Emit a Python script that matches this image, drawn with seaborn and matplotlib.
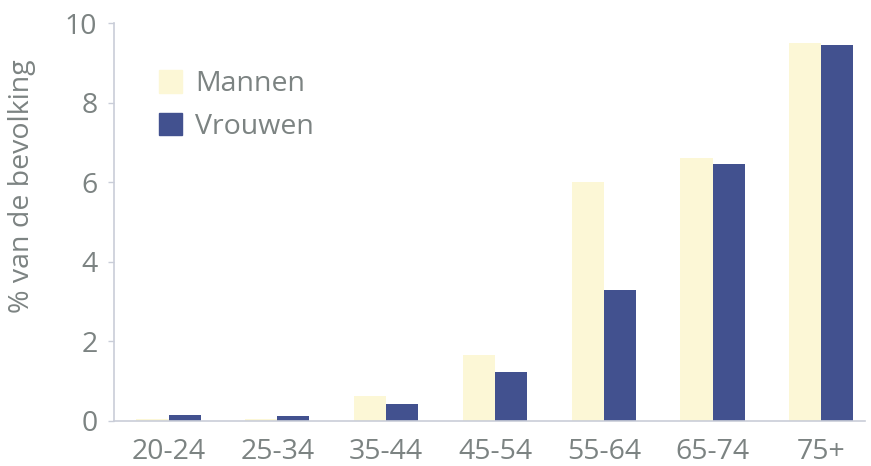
import matplotlib
matplotlib.use("Agg")
import matplotlib.pyplot as plt
import seaborn as sns
import pandas as pd

# Leeftijdsgroepen en percentage van de bevolking per geslacht
leeftijd = ["20-24", "25-34", "35-44", "45-54", "55-64", "65-74", "75+"]
mannen = [0.05, 0.05, 0.62, 1.65, 6.0, 6.6, 9.5]
vrouwen = [0.15, 0.12, 0.43, 1.23, 3.3, 6.45, 9.45]

df = pd.DataFrame({
    "leeftijd": leeftijd * 2,
    "geslacht": ["Mannen"] * len(leeftijd) + ["Vrouwen"] * len(leeftijd),
    "pct": mannen + vrouwen,
})

sns.set_theme(style="white")
plt.rcParams["font.family"] = ["Open Sans", "DejaVu Sans"]

tekst = "#7c8382"
as_kleur = "#c9cdd8"
palet = {"Mannen": "#fcf7d6", "Vrouwen": "#42518f"}
fs = 20.5

fig = plt.figure(figsize=(8.71, 4.66), dpi=100)
ax = fig.add_axes([0.131, 0.0966, 0.862, 0.854])

sns.barplot(data=df, x="leeftijd", y="pct", hue="geslacht", palette=palet,
            width=0.59, gap=0, saturation=1, linewidth=0, ax=ax, legend=False)

ax.set_ylim(0, 10)
ax.set_xlim(-0.5, 6.4)
ax.set_yticks([0, 2, 4, 6, 8, 10])
ax.set_ylabel("% van de bevolking", fontsize=fs, color=tekst)
ax.yaxis.set_label_coords(-0.104, 0.59)
ax.set_xlabel("")
ax.tick_params(axis="both", labelsize=fs, labelcolor=tekst)
ax.tick_params(axis="y", left=True, length=4, width=1, color=as_kleur, pad=8)
ax.tick_params(axis="x", bottom=False, pad=6)

for kant in ["top", "right"]:
    ax.spines[kant].set_visible(False)
for kant in ["left", "bottom"]:
    ax.spines[kant].set_color(as_kleur)
    ax.spines[kant].set_linewidth(1.2)

handles = [plt.Rectangle((0, 0), 1, 1, color=palet[g]) for g in ["Mannen", "Vrouwen"]]
ax.legend(handles, ["Mannen", "Vrouwen"], loc="upper left",
          bbox_to_anchor=(0.045, 0.91), frameon=False, fontsize=fs,
          labelcolor=tekst, handlelength=0.8, handleheight=0.85,
          handletextpad=0.45, labelspacing=0.5, borderaxespad=0)

fig.savefig("out.png", dpi=100)
